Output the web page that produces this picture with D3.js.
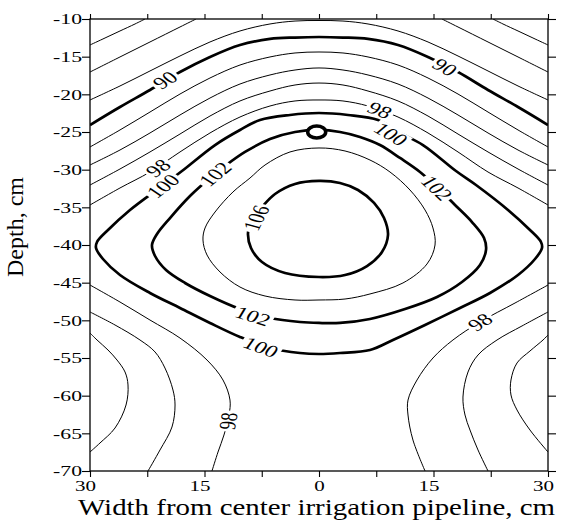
<!DOCTYPE html>
<html><head><meta charset="utf-8">
<script src="https://cdn.jsdelivr.net/npm/d3@7"></script>
<style>body{margin:0;background:#fff}</style>
</head><body><svg id="chart" width="563" height="520"></svg>
<script>
// ---------- axis data ----------
const xTicks = [-30, -22.5, -15, -7.5, 0, 7.5, 15, 22.5, 30];
const xTickLabels = ["30", "", "15", "", "0", "", "15", "", "30"];
const yTicks = [-10, -15, -20, -25, -30, -35, -40, -45, -50, -55, -60, -65, -70];
const yTickLabels = ["-10", "-15", "-20", "-25", "-30", "-35", "-40", "-45", "-50", "-55", "-60", "-65", "-70"];
const xTitle = "Width from center irrigation pipeline, cm";
const yTitle = "Depth, cm";
const thickLevels = [90, 100, 102, 106];

// ---------- contour lines (x in cm, depth in cm) ----------
const c84L_x = [-30, -28.03, -26.07, -24.10, -22.79];
const c84L_d = [-13.45, -12.52, -11.59, -10.66, -10.00];
const c84R_x = [22.79, 24.10, 26.07, 28.03, 30];
const c84R_d = [-10.00, -10.66, -11.59, -12.52, -13.45];
const c86L_x = [-30, -26.07, -22.14, -18.21, -16.11];
const c86L_d = [-17.04, -15.04, -13.05, -11.06, -10.00];
const c86R_x = [16.11, 18.21, 22.14, 26.07, 30];
const c86R_d = [-10.00, -11.06, -13.05, -15.04, -17.04];

const arcX = [-30, -26.07, -22.14, -18.21, -14.28, -10.35, -6.42, -3.14, 0, 3.14, 6.42, 10.35, 14.28, 18.21, 22.14, 26.07, 30];
const c88_d = [-20.75, -18.89, -16.90, -14.91, -13.05, -11.59, -10.66, -10.27, -10.20, -10.27, -10.66, -11.59, -13.05, -14.91, -16.90, -18.89, -20.75];
const c90_d = [-24.07, -21.68, -19.42, -17.04, -15.04, -13.45, -12.65, -12.46, -12.39, -12.46, -12.65, -13.45, -15.04, -17.04, -19.42, -21.68, -24.07];
const c92_d = [-26.99, -24.73, -22.35, -19.96, -17.83, -16.11, -15.04, -14.51, -14.38, -14.51, -15.04, -16.11, -17.83, -19.96, -22.35, -24.73, -26.99];
const c94_d = [-29.38, -27.39, -25.13, -22.74, -20.49, -18.63, -17.43, -16.77, -16.50, -16.77, -17.43, -18.63, -20.49, -22.74, -25.13, -27.39, -29.38];
const c96_d = [-32.04, -29.91, -27.65, -25.27, -22.88, -20.88, -19.56, -18.76, -18.50, -18.76, -19.56, -20.88, -22.88, -25.27, -27.65, -29.91, -32.04];
const c98_d = [-34.69, -32.43, -30.31, -27.65, -25.13, -23.01, -21.55, -20.88, -20.75, -20.88, -21.55, -23.01, -25.13, -27.65, -30.31, -32.43, -34.69];

const c100_x = [0, -3.80, -7.73, -10.35, -13.62, -17.95, -20.57, -24.76, -27.64, -29.08, -29.21, -28.30, -26.07, -22.14, -18.21, -14.28, -10.35, -6.42, -2.49, 0, 2.75, 6.68, 9.69, 13.89, 18.47, 22.40, 26.07, 28.30, 29.21, 29.08, 27.64, 24.76, 20.57, 17.95, 13.62, 10.35, 7.73, 3.80];
const c100_d = [-22.48, -22.74, -23.41, -24.73, -26.73, -30.18, -32.17, -35.35, -38.01, -39.60, -40.40, -41.86, -43.98, -46.37, -48.36, -50.35, -52.21, -53.67, -54.34, -54.47, -54.34, -53.94, -52.61, -50.62, -48.36, -46.37, -43.98, -41.86, -40.40, -39.60, -38.01, -35.35, -32.04, -30.18, -26.73, -25.00, -23.41, -22.74];

const c102_x = [0, -3.14, -6.42, -9.69, -12.31, -14.28, -16.90, -19.52, -21.22, -21.88, -21.48, -20.04, -17.55, -14.28, -10.35, -6.42, -2.49, 0, 2.75, 6.68, 11.27, 15.46, 18.73, 21.09, 21.88, 21.62, 20.04, 17.82, 15.85, 13.23, 10.61, 7.99, 5.37, 2.75];
const c102_d = [-24.73, -25.00, -25.93, -27.65, -29.51, -31.11, -33.50, -36.42, -38.54, -40.00, -41.46, -43.32, -45.04, -46.77, -48.50, -49.69, -50.22, -50.35, -50.35, -49.82, -48.50, -46.90, -44.91, -42.65, -40.66, -39.07, -36.95, -34.69, -32.70, -30.31, -28.45, -26.73, -25.66, -25.00];

const c104_x = [0, -3.80, -7.07, -9.04, -11.27, -13.62, -14.93, -15.20, -14.67, -12.97, -10.35, -7.07, -3.14, 0, 3.41, 6.68, 11.00, 14.15, 15.20, 14.93, 13.89, 11.92, 9.30, 6.68, 3.41];
const c104_d = [-27.12, -27.65, -29.38, -31.11, -32.96, -35.62, -37.74, -39.34, -41.33, -43.58, -45.58, -46.77, -47.30, -47.30, -47.17, -46.50, -45.04, -42.52, -40.00, -37.74, -35.35, -32.70, -30.31, -28.72, -27.52];

const c106_x = [0, -3.14, -5.76, -7.47, -8.78, -9.30, -8.91, -7.47, -4.45, 0, 3.41, 6.29, 8.25, 9.04, 8.52, 7.21, 5.11, 2.75];
const c106_d = [-31.50, -31.90, -33.23, -34.96, -36.68, -38.41, -40.40, -42.26, -43.72, -44.25, -43.98, -42.79, -40.93, -38.67, -36.42, -34.42, -32.70, -31.77];

const c98LL_x = [-30, -26.07, -22.14, -18.21, -14.67, -12.58, -11.66, -11.79, -12.45, -13.23, -14.02];
const c98LL_d = [-45.31, -47.57, -49.96, -52.35, -55.27, -57.92, -60.58, -62.57, -65.22, -67.48, -70.00];
const c98LR_x = [30, 25.68, 21.09, 17.55, 14.93, 12.84, 11.66, 11.66, 12.31, 13.89];
const c98LR_d = [-45.31, -47.70, -50.22, -52.61, -55.00, -57.92, -60.58, -62.57, -65.89, -70.00];
const c96LL_x = [-30, -26.72, -23.45, -21.48, -20.18, -19.13, -18.86, -19.26, -20.83, -22.40];
const c96LL_d = [-48.89, -50.62, -52.61, -54.20, -56.33, -59.25, -61.24, -64.16, -67.21, -70.00];
const c96LR_x = [30, 26.59, 23.32, 20.83, 19.52, 18.86, 19.13, 19.78, 20.83, 22.14];
const c96LR_d = [-48.89, -50.75, -52.61, -54.60, -56.86, -60.18, -62.57, -64.56, -67.21, -70.00];
const c94LL_x = [-30, -29.08, -27.64, -26.46, -25.41, -25.02, -25.28, -26.72, -28.69, -30];
const c94LL_d = [-51.68, -52.61, -53.94, -55.27, -56.86, -58.58, -61.24, -64.29, -66.28, -67.48];
const c94LR_x = [30, 29.35, 27.64, 25.94, 25.15, 25.15, 25.94, 27.64, 30];
const c94LR_d = [-51.95, -52.61, -54.07, -55.66, -57.92, -59.91, -61.90, -64.56, -67.48];

// ---------- contour labels ----------
const labelText  = ["90", "90", "98", "100", "102", "98", "100", "102", "106", "102", "100", "98", "98"];
const labelX     = [-20.18, 16.51, -21.09, -20.44, -13.62, 7.99, 9.43, 15.46, -8.25, -8.65, -7.60, 21.09, -11.92];
const labelDepth = [-18.10, -16.37, -29.78, -32.17, -30.58, -22.08, -25.27, -32.43, -36.42, -49.43, -53.54, -50.22, -63.37];
const labelAngle = [-31, 29, -34, -37, -39, 21, 31, 43, -63, 17, 20, -31, -80];

// irrigation pipe position
const pipeX = -0.3, pipeDepth = -25;

// ---------- drawing ----------
const contours = [
  {level: 84, closed: false, xs: c84L_x, ds: c84L_d},
  {level: 84, closed: false, xs: c84R_x, ds: c84R_d},
  {level: 86, closed: false, xs: c86L_x, ds: c86L_d},
  {level: 86, closed: false, xs: c86R_x, ds: c86R_d},
  {level: 88, closed: false, xs: arcX, ds: c88_d},
  {level: 90, closed: false, xs: arcX, ds: c90_d},
  {level: 92, closed: false, xs: arcX, ds: c92_d},
  {level: 94, closed: false, xs: arcX, ds: c94_d},
  {level: 96, closed: false, xs: arcX, ds: c96_d},
  {level: 98, closed: false, xs: arcX, ds: c98_d},
  {level: 100, closed: true, xs: c100_x, ds: c100_d},
  {level: 102, closed: true, xs: c102_x, ds: c102_d},
  {level: 104, closed: true, xs: c104_x, ds: c104_d},
  {level: 106, closed: true, xs: c106_x, ds: c106_d},
  {level: 98, closed: false, xs: c98LL_x, ds: c98LL_d},
  {level: 98, closed: false, xs: c98LR_x, ds: c98LR_d},
  {level: 96, closed: false, xs: c96LL_x, ds: c96LL_d},
  {level: 96, closed: false, xs: c96LR_x, ds: c96LR_d},
  {level: 94, closed: false, xs: c94LL_x, ds: c94LL_d},
  {level: 94, closed: false, xs: c94LR_x, ds: c94LR_d}
];

const svg = d3.select("#chart");
const pL = 90, pR = 548, pT = 19, pB = 471;
const x = d3.scaleLinear().domain([-30, 30]).range([pL, pR]);
const y = d3.scaleLinear().domain([-10, -70]).range([pT, pB]);
const serif = "'Liberation Serif', 'Times New Roman', serif";

svg.append("defs").append("clipPath").attr("id", "plotClip")
  .append("rect").attr("x", pL).attr("y", pT).attr("width", pR - pL).attr("height", pB - pT);

const cg = svg.append("g").attr("clip-path", "url(#plotClip)");
contours.forEach(c => {
  const pts = c.xs.map((v, i) => [v, c.ds[i]]);
  const gen = d3.line().x(p => x(p[0])).y(p => y(p[1]))
    .curve(c.closed ? d3.curveCatmullRomClosed.alpha(0.5) : d3.curveCatmullRom.alpha(0.5));
  cg.append("path").attr("d", gen(pts))
    .attr("fill", "none").attr("stroke", "#000")
    .attr("stroke-width", thickLevels.includes(c.level) ? 2.7 : 1.0)
    .attr("stroke-linejoin", "round");
});

// labels with white gaps
const sx = 1.4, lfs = 17;
const lg = svg.append("g");
labelText.forEach((t, i) => {
  const v = labelAngle[i] * Math.PI / 180;
  const a = Math.atan(sx * Math.tan(v)) * 180 / Math.PI;
  const g = lg.append("g")
    .attr("transform", `translate(${x(labelX[i])},${y(labelDepth[i])}) scale(${sx},1) rotate(${a})`);
  const txt = g.append("text").text(t)
    .attr("text-anchor", "middle").attr("dy", "0.35em")
    .style("font-family", serif).style("font-size", lfs + "px").attr("fill", "#000");
  const bb = txt.node().getBBox();
  g.insert("rect", "text")
    .attr("x", bb.x - 2).attr("y", -lfs * 0.4)
    .attr("width", bb.width + 4).attr("height", lfs * 0.8)
    .attr("fill", "#fff");
});

// pipe marker
svg.append("ellipse").attr("cx", x(pipeX)).attr("cy", y(pipeDepth))
  .attr("rx", 9).attr("ry", 6)
  .attr("fill", "#fff").attr("stroke", "#000").attr("stroke-width", 3.5);

// axes
const gb = svg.append("g").attr("transform", `translate(0,${pB})`)
  .call(d3.axisBottom(x).tickValues(xTicks).tickSize(6).tickSizeOuter(0).tickFormat((d, i) => xTickLabels[i]));
gb.selectAll(".tick text").filter(function () { return this.textContent === ""; }).remove();
gb.selectAll(".tick text")
  .attr("y", null).attr("dy", null)
  .attr("transform", d => `translate(${d === 0 ? 0 : -5},20) scale(1.5,1)`)
  .attr("text-anchor", "middle")
  .style("font-family", serif).style("font-size", "14px");

const gl = svg.append("g").attr("transform", `translate(${pL},0)`)
  .call(d3.axisLeft(y).tickValues(yTicks).tickSize(8).tickSizeOuter(0).tickFormat((d, i) => yTickLabels[i]));
gl.selectAll(".tick text")
  .attr("x", null).attr("dy", "0.35em")
  .attr("transform", "translate(-8,0) scale(1.55,1)")
  .attr("text-anchor", "end")
  .style("font-family", serif).style("font-size", "14px");

svg.append("g").attr("transform", `translate(0,${pT})`)
  .call(d3.axisTop(x).tickValues(xTicks).tickSize(5).tickSizeOuter(0).tickFormat(""));
svg.append("g").attr("transform", `translate(${pR},0)`)
  .call(d3.axisRight(y).tickValues(yTicks).tickSize(8).tickSizeOuter(0).tickFormat(""));
svg.selectAll(".domain").remove();
svg.selectAll(".tick text").filter(function () { return this.textContent === ""; }).remove();
svg.selectAll(".tick line").attr("stroke", "#000").attr("stroke-width", 1.1);

svg.append("rect").attr("x", pL).attr("y", pT).attr("width", pR - pL).attr("height", pB - pT)
  .attr("fill", "none").attr("stroke", "#000").attr("stroke-width", 1.3);

// titles
svg.append("text").text(xTitle)
  .attr("x", 78).attr("y", 515)
  .attr("textLength", 477).attr("lengthAdjust", "spacingAndGlyphs")
  .style("font-family", serif).style("font-size", "23px").attr("fill", "#000");
svg.append("text").text(yTitle)
  .attr("transform", "translate(23,227) rotate(-90)")
  .attr("text-anchor", "middle")
  .style("font-family", serif).style("font-size", "24px").attr("fill", "#000");
</script></body></html>
